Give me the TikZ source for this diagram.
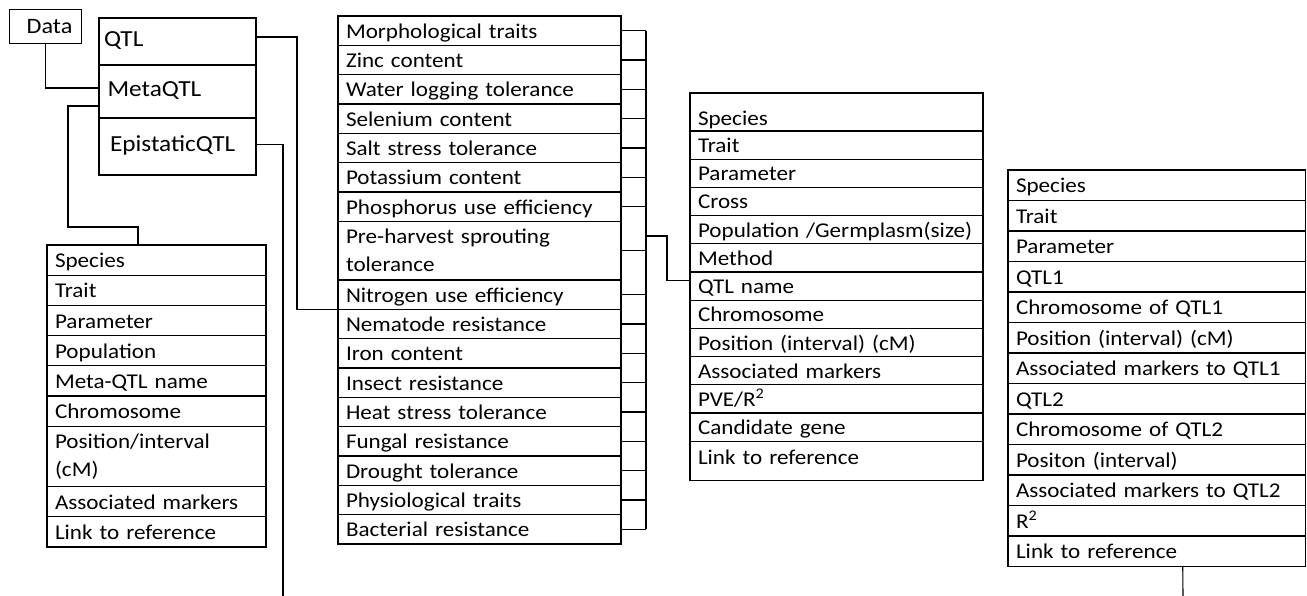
\documentclass[tikz,border=0pt]{standalone}
\usepackage{fontspec}
\setmainfont{Carlito}[FakeStretch=1.1]
\usetikzlibrary{positioning}

\tikzset{
	cell/.style={draw, line width=1.1pt, outer sep=0pt, inner xsep=8pt, inner ysep=0pt, align=left, text height=17pt, text depth=2pt, font=\fontsize{21}{28}\selectfont},
	metacell/.style={cell, text width=203pt, minimum height=30.2pt},
	traitcell/.style={cell, text width=267pt, minimum height=29.33pt},
	qtlcell/.style={cell, text width=277pt, minimum height=28.2pt},
	epicell/.style={cell, text width=281.5pt, minimum height=30.5pt},
	twoline/.style={text height=, text depth=},
	section/.style={draw, line width=1.1pt, outer sep=0pt, inner xsep=5pt, inner ysep=0pt, text width=147pt, align=left, text height=16pt, text depth=5pt, font=\fontsize{23}{28}\selectfont},
	link/.style={line width=1.1pt},
}

\begin{document}
\begin{tikzpicture}[x=1pt, y=-1pt]
	\useasboundingbox (0,0) rectangle (1307,596);

	% data and the three QTL types
	\node [draw, line width=1.1pt, anchor=north west, minimum width=72pt, minimum height=34pt, font=\fontsize{22}{26}\selectfont] (data) at (9,9) {\hspace*{8pt}Data};
	\node [section, anchor=north west, minimum height=47pt] (qtl) at (99,18) {QTL};
	\node [section, below=0pt of qtl, minimum height=53pt] (meta) {\hspace*{3.5pt}MetaQTL};
	\node [section, below=0pt of meta, minimum height=57pt] (epi) {\hspace*{6pt}EpistaticQTL};

	% MetaQTL fields
	\node [metacell, anchor=north west] (m1) at (47,245) {Species};
	\node [metacell, below=0pt of m1] (m2) {Trait};
	\node [metacell, below=0pt of m2] (m3) {Parameter};
	\node [metacell, below=0pt of m3] (m4) {Population};
	\node [metacell, below=0pt of m4] (m5) {Meta-QTL name};
	\node [metacell, below=0pt of m5] (m6) {Chromosome};
	\node [metacell, twoline, minimum height=60.4pt, below=0pt of m6] (m7) {Position/interval\\(cM)};
	\node [metacell, below=0pt of m7] (m8) {Associated markers};
	\node [metacell, below=0pt of m8] (m9) {Link to reference};

	% trait groups
	\node [traitcell, anchor=north west] (t1) at (338,16) {Morphological traits};
	\node [traitcell, below=0pt of t1] (t2) {Zinc content};
	\node [traitcell, below=0pt of t2] (t3) {Water logging tolerance};
	\node [traitcell, below=0pt of t3] (t4) {Selenium content};
	\node [traitcell, below=0pt of t4] (t5) {Salt stress tolerance};
	\node [traitcell, below=0pt of t5] (t6) {Potassium content};
	\node [traitcell, below=0pt of t6] (t7) {Phosphorus use efficiency};
	\node [traitcell, twoline, minimum height=58.67pt, below=0pt of t7] (t8) {Pre-harvest sprouting\\tolerance};
	\node [traitcell, below=0pt of t8] (t9) {Nitrogen use efficiency};
	\node [traitcell, below=0pt of t9] (t10) {Nematode resistance};
	\node [traitcell, below=0pt of t10] (t11) {Iron content};
	\node [traitcell, below=0pt of t11] (t12) {Insect resistance};
	\node [traitcell, below=0pt of t12] (t13) {Heat stress tolerance};
	\node [traitcell, below=0pt of t13] (t14) {Fungal resistance};
	\node [traitcell, below=0pt of t14] (t15) {Drought tolerance};
	\node [traitcell, below=0pt of t15] (t16) {Physiological traits};
	\node [traitcell, below=0pt of t16] (t17) {Bacterial resistance};

	% QTL fields
	\node [qtlcell, anchor=north west, minimum height=38pt, text height=30pt] (q1) at (690,93) {Species};
	\node [qtlcell, below=0pt of q1] (q2) {Trait};
	\node [qtlcell, below=0pt of q2] (q3) {Parameter};
	\node [qtlcell, below=0pt of q3] (q4) {Cross};
	\node [qtlcell, below=0pt of q4] (q5) {\mbox{Population /Germplasm(size)}};
	\node [qtlcell, below=0pt of q5] (q6) {Method};
	\node [qtlcell, below=0pt of q6] (q7) {QTL name};
	\node [qtlcell, below=0pt of q7] (q8) {Chromosome};
	\node [qtlcell, below=0pt of q8] (q9) {Position (interval) (cM)};
	\node [qtlcell, below=0pt of q9] (q10) {Associated markers};
	\node [qtlcell, below=0pt of q10] (q11) {PVE/R\textsuperscript{2}};
	\node [qtlcell, below=0pt of q11] (q12) {Candidate gene};
	\node [qtlcell, minimum height=39pt, text depth=10pt, below=0pt of q12] (q13) {Link to reference};

	% EpistaticQTL fields
	\node [epicell, anchor=north west] (e1) at (1008,170) {Species};
	\node [epicell, below=0pt of e1] (e2) {Trait};
	\node [epicell, below=0pt of e2] (e3) {Parameter};
	\node [epicell, below=0pt of e3] (e4) {QTL1};
	\node [epicell, below=0pt of e4] (e5) {Chromosome of QTL1};
	\node [epicell, below=0pt of e5] (e6) {Position (interval) (cM)};
	\node [epicell, below=0pt of e6] (e7) {Associated markers to QTL1};
	\node [epicell, below=0pt of e7] (e8) {QTL2};
	\node [epicell, below=0pt of e8] (e9) {Chromosome of QTL2};
	\node [epicell, below=0pt of e9] (e10) {Positon (interval)};
	\node [epicell, below=0pt of e10] (e11) {Associated markers to QTL2};
	\node [epicell, below=0pt of e11] (e12) {R\textsuperscript{2}};
	\node [epicell, below=0pt of e12] (e13) {Link to reference};

	\coordinate (brk) at (646,236);
	\coordinate (epiend) at (283,596);
	\coordinate (epibot) at (1183,596);

	% connectors
	\draw [link] (data.south) |- ([yshift=3.5pt]meta.west);
	\draw [link] ([yshift=-14.5pt]meta.west) -| ++(-31,121) -| ([xshift=-18.5pt]m1.north);
	\draw [link] ([yshift=4.5pt]qtl.east) -- ++(41,0) |- (t9.south west);
	\draw [link] ([yshift=2pt]epi.east) -| (epiend);
	\foreach \i in {1,...,17}
		\draw [link] (t\i.east) -- ++(25,0);
	\draw [link] ([xshift=25pt]t1.east) -- ([xshift=25pt]t17.east);
	\draw [link] (brk) -- ++(21,0) |- ([yshift=6pt]q7.west);
	\draw [link] ([xshift=26pt]e13.south) -- (epibot);
\end{tikzpicture}
\end{document}
